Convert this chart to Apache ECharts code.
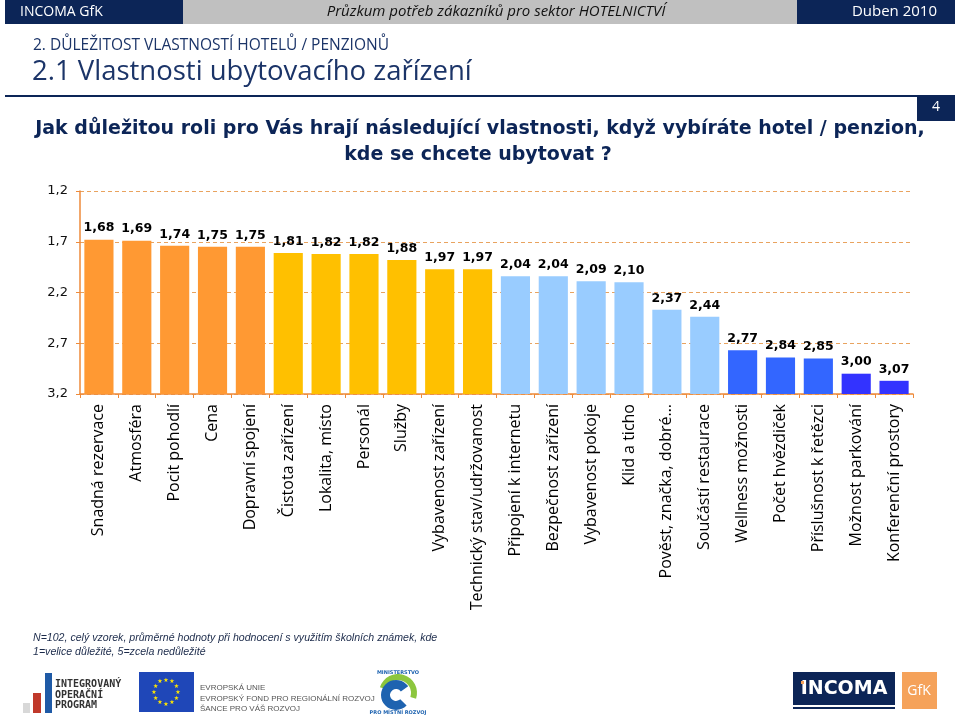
<!DOCTYPE html>
<html>
<head>
<meta charset="utf-8">
<script src="https://cdn.jsdelivr.net/npm/echarts@6/dist/echarts.min.js"></script>
<style>
html, body { margin: 0; padding: 0; background: #fff; }
#chart { width: 960px; height: 716px; }
</style>
</head>
<body>
<div id="chart"></div>
<script>
// data (1 = velice důležité ... 5 = zcela nedůležité)
const categories = [
  'Snadná rezervace', 'Atmosféra', 'Pocit pohodlí', 'Cena', 'Dopravní spojení',
  'Čistota zařízení', 'Lokalita, místo', 'Personál', 'Služby', 'Vybavenost zařízení',
  'Technický stav/udržovanost', 'Připojení k internetu', 'Bezpečnost zařízení',
  'Vybavenost pokoje', 'Klid a ticho', 'Pověst, značka, dobré…', 'Součástí restaurace',
  'Wellness možnosti', 'Počet hvězdiček', 'Příslušnost k řetězci', 'Možnost parkování',
  'Konferenční prostory'
]
const scores = [1.68, 1.69, 1.74, 1.75, 1.75, 1.81, 1.82, 1.82, 1.88, 1.97, 1.97,
  2.04, 2.04, 2.09, 2.10, 2.37, 2.44, 2.77, 2.84, 2.85, 3.00, 3.07]
// colour group of each bar
const tiers = [0, 0, 0, 0, 0, 1, 1, 1, 1, 1, 1, 2, 2, 2, 2, 2, 2, 3, 3, 3, 4, 4]
// y ticks, bottom -> top
const yTickLabels = ['3,2', '2,7', '2,2', '1,7', '1,2']

const AXIS_BOTTOM = 3.2
const AXIS_TOP = 1.2
const TICK_STEP = 0.5
const palette = ['#FF9933', '#FFC000', '#99CCFF', '#3366FF', '#3333FF']
const NAVY = '#0C2557'
const ORANGE = '#EE8A3A'

const fmt = v => v.toFixed(2).replace('.', ',')

// EU flag stars
const euStars = []
for (let k = 0; k < 12; k++) {
  const a = k * Math.PI / 6
  euStars.push({
    type: 'text', x: 166 + 12 * Math.cos(a), y: 692 + 12 * Math.sin(a),
    style: { text: '★', font: '6px DejaVu Sans', fill: '#FFE600', align: 'center', verticalAlign: 'middle' }
  })
}

const chart = echarts.init(document.getElementById('chart'))

chart.setOption({
  animation: false,
  backgroundColor: '#fff',
  grid: { left: 80, right: 47, top: 191, bottom: 322 },
  xAxis: {
    type: 'category',
    data: categories,
    axisLine: { lineStyle: { color: ORANGE, width: 1.5 } },
    axisTick: { show: true, length: 4, lineStyle: { color: ORANGE } },
    axisLabel: {
      interval: 0,
      rotate: 90,
      margin: 10,
      color: '#000',
      fontSize: 16,
      fontFamily: 'Open Sans'
    }
  },
  yAxis: {
    type: 'value',
    min: 0,
    max: AXIS_BOTTOM - AXIS_TOP,
    interval: TICK_STEP,
    axisLine: { show: true, lineStyle: { color: ORANGE, width: 1.5 } },
    axisTick: { show: true, length: 4, lineStyle: { color: ORANGE } },
    splitLine: { show: true, lineStyle: { color: '#E9A35F', type: [4, 3], width: 1 } },
    axisLabel: {
      margin: 12,
      color: '#111',
      fontSize: 13,
      fontFamily: 'DejaVu Sans',
      formatter: v => yTickLabels[Math.round(v / TICK_STEP)]
    }
  },
  series: [{
    type: 'bar',
    barCategoryGap: '23%',
    // bars rise from the 3,2 baseline to the score (axis runs 3,2 at bottom up to 1,2)
    data: scores.map((s, i) => ({
      value: AXIS_BOTTOM - s,
      itemStyle: { color: palette[tiers[i]] }
    })),
    label: {
      show: true,
      position: 'top',
      distance: 5,
      color: '#000',
      fontSize: 12.5,
      fontWeight: 'bold',
      fontFamily: 'DejaVu Sans',
      formatter: p => fmt(scores[p.dataIndex])
    }
  }],
  graphic: [
    // header band
    { type: 'rect', shape: { x: 5, y: 0, width: 178, height: 24 }, style: { fill: NAVY } },
    { type: 'rect', shape: { x: 183, y: 0, width: 614, height: 24 }, style: { fill: '#C0C0C0' } },
    { type: 'rect', shape: { x: 797, y: 0, width: 158, height: 24 }, style: { fill: NAVY } },
    { type: 'text', x: 20, y: 12, style: { text: 'INCOMA GfK', font: '14px "Open Sans"', fill: '#fff', verticalAlign: 'middle' } },
    { type: 'text', x: 496, y: 12, style: { text: 'Průzkum potřeb zákazníků pro sektor HOTELNICTVÍ', font: 'italic 15px "Open Sans"', fill: '#111', align: 'center', verticalAlign: 'middle' } },
    { type: 'text', x: 937, y: 12, style: { text: 'Duben 2010', font: '15px "Open Sans"', fill: '#fff', align: 'right', verticalAlign: 'middle' } },
    // section titles
    { type: 'text', x: 33, y: 46, style: { text: '2. DŮLEŽITOST VLASTNOSTÍ HOTELŮ / PENZIONŮ', font: '15.5px "Open Sans"', fill: '#1B3468', verticalAlign: 'middle' } },
    { type: 'text', x: 32, y: 72, style: { text: '2.1 Vlastnosti ubytovacího zařízení', font: '27.5px "Open Sans"', fill: '#1B3468', verticalAlign: 'middle' } },
    { type: 'rect', shape: { x: 5, y: 95, width: 950, height: 2 }, style: { fill: NAVY } },
    { type: 'rect', shape: { x: 917, y: 96, width: 38, height: 25 }, style: { fill: NAVY } },
    { type: 'text', x: 936, y: 107, style: { text: '4', font: '14px "Open Sans"', fill: '#fff', align: 'center', verticalAlign: 'middle' } },
    // question
    { type: 'text', x: 480, y: 129, style: { text: 'Jak důležitou roli pro Vás hrají následující vlastnosti, když vybíráte hotel / penzion,', font: 'bold 19px "DejaVu Sans"', fill: NAVY, align: 'center', verticalAlign: 'middle' } },
    { type: 'text', x: 478, y: 155, style: { text: 'kde se chcete ubytovat ?', font: 'bold 19px "DejaVu Sans"', fill: NAVY, align: 'center', verticalAlign: 'middle' } },
    // footnote
    { type: 'text', x: 33, y: 638, style: { text: 'N=102, celý vzorek, průměrné hodnoty při hodnocení s využitím školních známek, kde', font: 'italic 10.6px "Liberation Sans"', fill: '#1B2A4A', verticalAlign: 'middle' } },
    { type: 'text', x: 33, y: 652, style: { text: '1=velice důležité, 5=zcela nedůležité', font: 'italic 10.6px "Liberation Sans"', fill: '#1B2A4A', verticalAlign: 'middle' } },
    // IOP logo
    { type: 'rect', shape: { x: 23, y: 703, width: 7, height: 10 }, style: { fill: '#D8D8D8' } },
    { type: 'rect', shape: { x: 33, y: 693, width: 8, height: 20 }, style: { fill: '#C0392B' } },
    { type: 'rect', shape: { x: 45, y: 673, width: 7, height: 40 }, style: { fill: '#1F5AA6' } },
    { type: 'text', x: 55, y: 684, style: { text: 'INTEGROVANÝ', font: 'bold 10px "DejaVu Sans Mono"', fill: '#333', verticalAlign: 'middle' } },
    { type: 'text', x: 55, y: 695, style: { text: 'OPERAČNÍ', font: 'bold 10px "DejaVu Sans Mono"', fill: '#333', verticalAlign: 'middle' } },
    { type: 'text', x: 55, y: 705, style: { text: 'PROGRAM', font: 'bold 10px "DejaVu Sans Mono"', fill: '#333', verticalAlign: 'middle' } },
    // EU logo
    { type: 'rect', shape: { x: 139, y: 672, width: 55, height: 40 }, style: { fill: '#1F47B8' } },
    ...euStars,
    { type: 'text', x: 200, y: 688, style: { text: 'EVROPSKÁ UNIE', font: '8px "Liberation Sans"', fill: '#555', verticalAlign: 'middle' } },
    { type: 'text', x: 200, y: 699, style: { text: 'EVROPSKÝ FOND PRO REGIONÁLNÍ ROZVOJ', font: '8px "Liberation Sans"', fill: '#555', verticalAlign: 'middle' } },
    { type: 'text', x: 200, y: 709, style: { text: 'ŠANCE PRO VÁŠ ROZVOJ', font: '8px "Liberation Sans"', fill: '#555', verticalAlign: 'middle' } },
    // ministry logo
    { type: 'sector', shape: { cx: 398, cy: 693, r: 19, r0: 13, startAngle: -Math.PI * 0.9, endAngle: Math.PI * 0.1 }, style: { fill: '#8CC63E' } },
    { type: 'sector', shape: { cx: 396, cy: 695, r: 15, r0: 6, startAngle: Math.PI * 0.25, endAngle: Math.PI * 1.8 }, style: { fill: '#1E63B0' } },
    { type: 'text', x: 398, y: 673, style: { text: 'MINISTERSTVO', font: 'bold 5px "DejaVu Sans"', fill: '#1E63B0', align: 'center', verticalAlign: 'middle' } },
    { type: 'text', x: 398, y: 713, style: { text: 'PRO MÍSTNÍ ROZVOJ', font: 'bold 5px "DejaVu Sans"', fill: '#1E63B0', align: 'center', verticalAlign: 'middle' } },
    // INCOMA GfK logo
    { type: 'rect', shape: { x: 793, y: 672, width: 102, height: 33 }, style: { fill: NAVY } },
    { type: 'rect', shape: { x: 793, y: 707, width: 102, height: 2 }, style: { fill: NAVY } },
    { type: 'text', x: 844, y: 689, style: { text: 'INCOMA', font: 'bold 19px "DejaVu Sans"', fill: '#fff', align: 'center', verticalAlign: 'middle' } },
    { type: 'rect', shape: { x: 801, y: 681, width: 3, height: 3 }, style: { fill: '#F5A25A' } },
    { type: 'rect', shape: { x: 902, y: 672, width: 35, height: 37 }, style: { fill: '#F5A25A' } },
    { type: 'text', x: 919, y: 691, style: { text: 'GfK', font: '14px "Open Sans"', fill: '#fff', align: 'center', verticalAlign: 'middle' } }
  ]
})
</script>
</body>
</html>
